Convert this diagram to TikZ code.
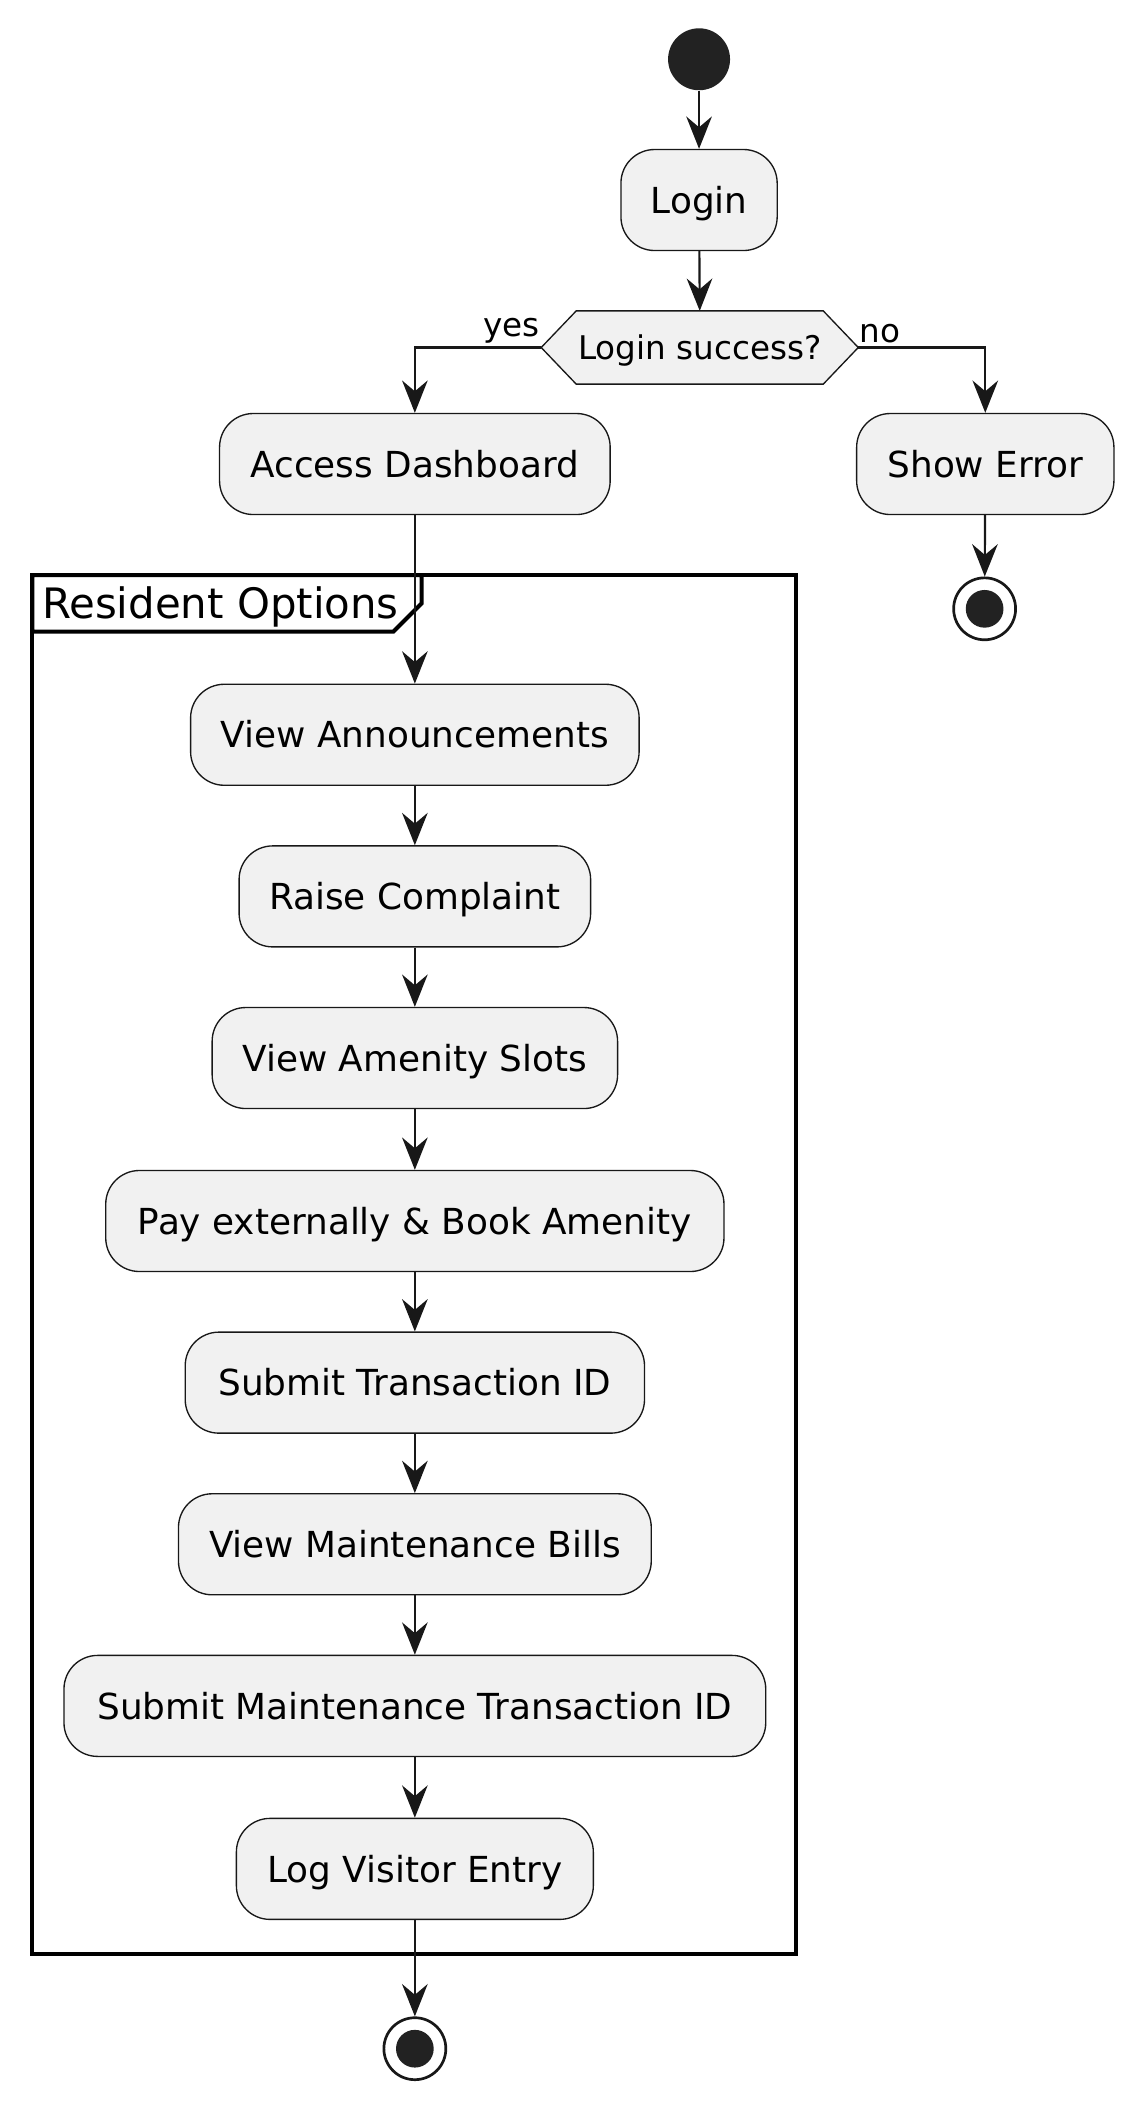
\documentclass[tikz,border=0pt]{standalone}
\usepackage{fontspec}
\setmainfont{DejaVu Sans}
\usetikzlibrary{arrows.meta}
\definecolor{boxfill}{HTML}{F1F1F1}
\definecolor{linec}{HTML}{181818}
\definecolor{dotc}{HTML}{222222}
\begin{document}
\begin{tikzpicture}[x=1pt,y=-1pt,
  act/.style={draw=linec, fill=boxfill, rounded corners=25pt, minimum height=75pt,
    line width=1pt, font=\fontsize{26.6}{30}\selectfont, inner sep=0pt,
    text height=19.5pt, text depth=0pt},
  flow/.style={draw=linec, line width=1.6pt, -{Stealth[length=24pt,width=19pt,inset=8pt]}},
  lbl/.style={font=\fontsize{24.2}{27}\selectfont, inner sep=0pt},
]
\useasboundingbox (0,0) rectangle (850,1568);

% frame
\draw[line width=3pt, draw=black] (24,427) rectangle (591,1451);
\draw[line width=3pt, draw=black, fill=white] (24,427) -- (313,427) -- (313,448) -- (292,469) -- (24,469) -- cycle;
\node[anchor=west, inner sep=0pt, font=\fontsize{31.1}{34}\selectfont, text height=22.5pt, text depth=0pt] (ftitle) at (31,448) {Resident Options};

% start
\node[circle, fill=dotc, minimum size=46pt, inner sep=0pt] (start) at (519,44) {};

\node[act, minimum width=116pt] (login) at (519,148.5) {Login};

% decision
\node[minimum width=235pt, minimum height=54pt, inner sep=0pt] (dec) at (519.5,258) {};
\draw[draw=linec, fill=boxfill, line width=1pt]
  (dec.west) -- ([xshift=26pt]dec.north west) -- ([xshift=-26pt]dec.north east) -- (dec.east)
  -- ([xshift=-26pt]dec.south east) -- ([xshift=26pt]dec.south west) -- cycle;
\node[lbl, text height=17.5pt, text depth=0pt] (dectext) at (dec.center) {Login success?};
\node[lbl, anchor=south east] (yes) at (401,255) {yes};
\node[lbl, anchor=south west] (no) at (638,255) {no};

\node[act, minimum width=290pt] (dash) at (308,344.5) {Access Dashboard};
\node[act, minimum width=191pt] (err) at (731.5,344.5) {Show Error};

\node[circle, draw=linec, line width=2pt, fill=white, minimum size=46pt, inner sep=0pt] (end1) at (731,452) {};
\fill[dotc] (end1.center) circle (14pt);

\node[act, minimum width=333pt] (ann) at (308,545.5) {View Announcements};
\node[act, minimum width=261pt] (comp) at (308,665.5) {Raise Complaint};
\node[act, minimum width=301pt] (slots) at (308,785.5) {View Amenity Slots};
\node[act, minimum width=459pt] (pay) at (308,906.5) {Pay externally \& Book Amenity};
\node[act, minimum width=341pt] (subtx) at (308,1026.5) {Submit Transaction ID};
\node[act, minimum width=351pt] (bills) at (308,1146.5) {View Maintenance Bills};
\node[act, minimum width=521pt] (submt) at (308,1266.5) {Submit Maintenance Transaction ID};
\node[act, minimum width=265pt] (visit) at (308,1387.5) {Log Visitor Entry};

\node[circle, draw=linec, line width=2pt, fill=white, minimum size=46pt, inner sep=0pt] (end2) at (308,1521) {};
\fill[dotc] (end2.center) circle (14pt);

% connectors
\draw[flow] (start) -- (login);
\draw[flow] (login) -- (dec.north);
\draw[flow] (dec.west) -| (dash.north);
\draw[flow] (dec.east) -| (err.north);
\draw[flow] (err) -- (end1);
\draw[flow] (dash) -- (ann);
\draw[flow] (ann) -- (comp);
\draw[flow] (comp) -- (slots);
\draw[flow] (slots) -- (pay);
\draw[flow] (pay) -- (subtx);
\draw[flow] (subtx) -- (bills);
\draw[flow] (bills) -- (submt);
\draw[flow] (submt) -- (visit);
\draw[flow] (visit) -- (end2);
\end{tikzpicture}
\end{document}
